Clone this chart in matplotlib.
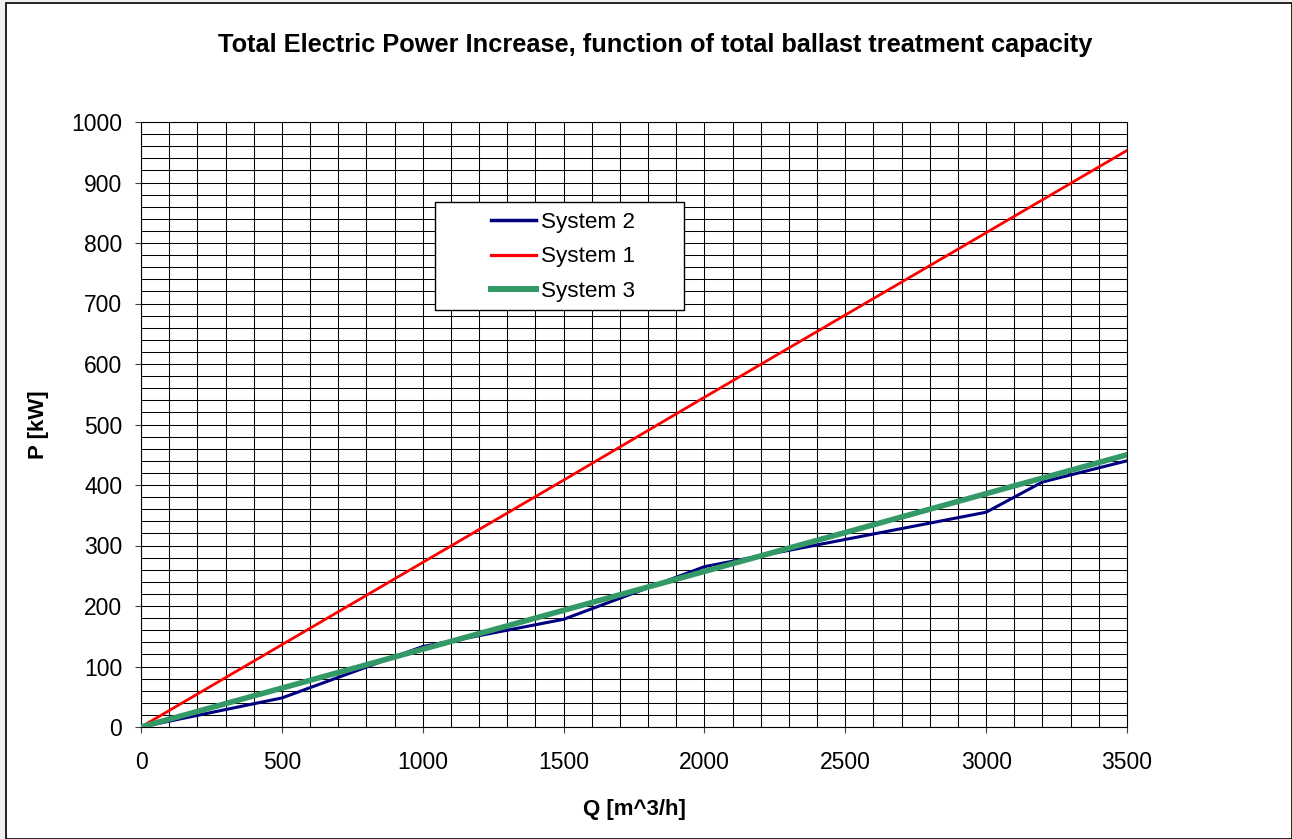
import numpy as np
import matplotlib.pyplot as plt
from matplotlib.patches import Rectangle
from matplotlib.ticker import MultipleLocator

plt.rcParams['font.family'] = ['Liberation Sans', 'DejaVu Sans']

# data
q_sys1 = [0, 500, 1000, 1500, 2000, 2500, 3000, 3500]
p_sys1 = [0, 136, 272, 408, 545, 681, 817, 953]

q_sys2 = [0, 500, 1000, 1500, 2000, 2500, 3000, 3200, 3500]
p_sys2 = [0, 48, 133, 178, 265, 310, 355, 405, 440]

q_sys3 = [0, 3500]
p_sys3 = [0, 450]

fig = plt.figure(figsize=(12.92, 8.39), dpi=100)
fig.patch.set_facecolor('#f0f0f0')
fig.patches.append(Rectangle((6 / 1292, 0), 1 - 6 / 1292, 1 - 3 / 839,
                             transform=fig.transFigure, facecolor='white',
                             edgecolor='black', linewidth=1.2, zorder=-10))

ax = fig.add_axes([141 / 1292, 1 - 727 / 839, (1127 - 141) / 1292, (727 - 122) / 839])
ax.set_facecolor('white')

ax.plot(q_sys2, p_sys2, color='#000080', lw=2.2, label='System 2', zorder=3)
ax.plot(q_sys1, p_sys1, color='#ff0000', lw=2.0, label='System 1', zorder=3)
ax.plot(q_sys3, p_sys3, color='#339966', lw=4.0, label='System 3', zorder=4)

ax.set_xlim(0, 3500)
ax.set_ylim(0, 1000)
ax.xaxis.set_major_locator(MultipleLocator(500))
ax.yaxis.set_major_locator(MultipleLocator(100))
ax.xaxis.set_minor_locator(MultipleLocator(100))
ax.yaxis.set_minor_locator(MultipleLocator(20))
ax.grid(which='both', color='black', linewidth=0.75, zorder=1)
ax.set_axisbelow(True)
ax.tick_params(which='major', direction='out', length=4.5, width=0.8,
               labelsize=16.5, color='#404040')
ax.tick_params(axis='x', which='major', pad=13)
ax.tick_params(axis='y', which='major', pad=9)
ax.tick_params(which='minor', length=0)
for s in ax.spines.values():
    s.set_linewidth(0.8)

# title is centred on the whole chart area, not on the plot
fig.text(655 / 1292, 1 - 45 / 839,
         'Total Electric Power Increase, function of total ballast treatment capacity',
         fontsize=18.3, fontweight='bold', ha='center', va='center')
ax.set_xlabel('Q [m^3/h]', fontsize=16, fontweight='bold', labelpad=18)
ax.set_ylabel('P [kW]', fontsize=16, fontweight='bold', labelpad=16)

# legend box drawn separately so the entries sit centred in a wider frame
ax.add_patch(Rectangle((0.2982, 0.6893), 0.2525, 0.1785, transform=ax.transAxes,
                       facecolor='white', edgecolor='black', linewidth=1.0,
                       zorder=5))
leg = ax.legend(loc='center left', bbox_to_anchor=(0.355, 0.777), borderaxespad=0,
                borderpad=0, fontsize=16.2, frameon=False, handlelength=2.0,
                handletextpad=0.22, labelspacing=0.6)
leg.set_zorder(6)
for h in leg.get_lines():
    h.set_linewidth(h.get_linewidth() + 0.3)

fig.savefig('out.png', dpi=100, facecolor=fig.get_facecolor())
